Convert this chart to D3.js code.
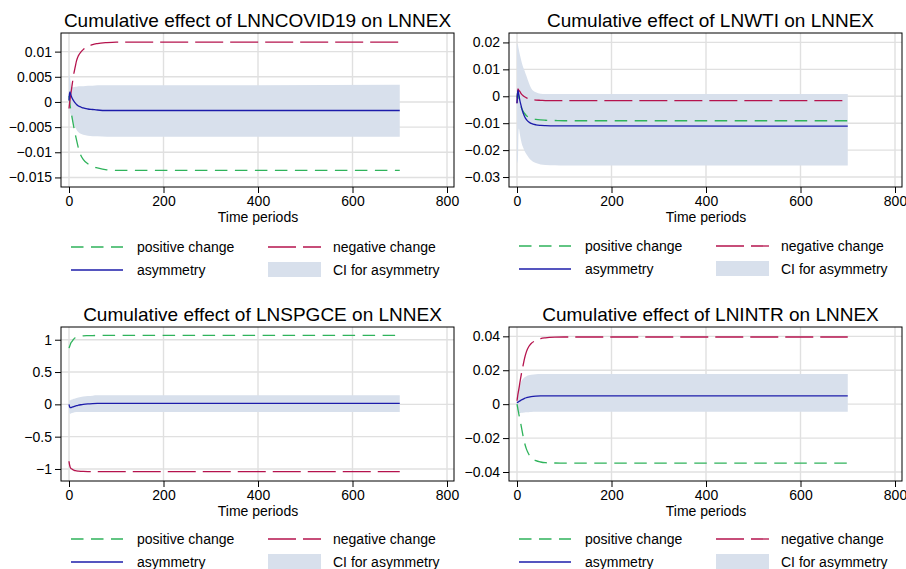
<!DOCTYPE html>
<html lang="en">
<head>
<meta charset="UTF-8">
<title>Cumulative effects on LNNEX</title>
<script src="https://d3js.org/d3.v7.min.js"></script>
<style>
  body { margin: 0; background: #fff; }
  svg { display: block; font-family: "Liberation Sans", Arial, sans-serif; }
</style>
</head>
<body>
<svg width="906" height="569"></svg>
<script>
const periods = [0, 1, 2, 3, 4, 6, 8, 10, 13, 16, 20, 25, 30, 40, 50, 60, 80, 100, 700];
const xTicks = [0, 200, 400, 600, 800];

// LNNCOVID19
const covidPos  = [0.0012, 0.0004, -0.0004, -0.0011, -0.0017, -0.0028, -0.0039, -0.0049, -0.0063, -0.0076, -0.0092, -0.0106, -0.0114, -0.0123, -0.0128, -0.0131, -0.0135, -0.0136, -0.0136];
const covidNeg  = [-0.0013, -0.0005, 0.0003, 0.0011, 0.0017, 0.0030, 0.0043, 0.0055, 0.0069, 0.0082, 0.0092, 0.0099, 0.0104, 0.0110, 0.0114, 0.0116, 0.0118, 0.0119, 0.0119];
const covidAsym = [0.0003, 0.0016, 0.0020, 0.0017, 0.0014, 0.0009, 0.0005, 0.0002, -0.0002, -0.0005, -0.0008, -0.0010, -0.0012, -0.0014, -0.0015, -0.0016, -0.0017, -0.0017, -0.0017];
const covidHi   = [0.0050, 0.0054, 0.0050, 0.0042, 0.0035, 0.0029, 0.0029, 0.0029, 0.0030, 0.0030, 0.0031, 0.0031, 0.0031, 0.0032, 0.0032, 0.0033, 0.0033, 0.0033, 0.0034];
const covidLo   = [-0.0010, -0.0015, -0.0020, -0.0024, -0.0028, -0.0034, -0.0040, -0.0045, -0.0050, -0.0055, -0.0060, -0.0063, -0.0065, -0.0067, -0.0068, -0.0068, -0.0069, -0.0069, -0.0069];
const covidTicks = [-0.015, -0.01, -0.005, 0, 0.005, 0.01];

// LNWTI
const wtiPos  = [-0.0005, 0.0010, 0.0015, 0.0005, -0.0005, -0.0022, -0.0035, -0.0045, -0.0056, -0.0064, -0.0072, -0.0078, -0.0082, -0.0086, -0.0088, -0.0089, -0.0090, -0.0091, -0.0091];
const wtiNeg  = [-0.0026, 0.0005, 0.0027, 0.0025, 0.0022, 0.0018, 0.0012, 0.0007, 0.0002, -0.0002, -0.0006, -0.0009, -0.0011, -0.0014, -0.0015, -0.0016, -0.0016, -0.0016, -0.0016];
const wtiAsym = [-0.0026, 0.0005, 0.0023, 0.0015, 0.0005, -0.0015, -0.0030, -0.0045, -0.0062, -0.0075, -0.0087, -0.0096, -0.0101, -0.0106, -0.0108, -0.0109, -0.0110, -0.0110, -0.0111];
const wtiHi   = [0.0190, 0.0195, 0.0190, 0.0180, 0.0172, 0.0155, 0.0140, 0.0125, 0.0108, 0.0095, 0.0075, 0.0050, 0.0030, 0.0015, 0.0009, 0.0008, 0.0008, 0.0008, 0.0008];
const wtiLo   = [-0.0248, -0.0245, -0.0235, -0.0140, -0.0120, -0.0140, -0.0160, -0.0175, -0.0190, -0.0203, -0.0215, -0.0228, -0.0238, -0.0248, -0.0253, -0.0255, -0.0256, -0.0257, -0.0257];
const wtiTicks = [-0.03, -0.02, -0.01, 0, 0.01, 0.02];

// LNSPGCE
const spgPos  = [0.87, 0.89, 0.91, 0.93, 0.95, 0.97, 0.99, 1.01, 1.03, 1.04, 1.05, 1.055, 1.06, 1.063, 1.065, 1.066, 1.066, 1.066, 1.066];
const spgNeg  = [-0.88, -0.93, -0.96, -0.98, -0.99, -1.00, -1.01, -1.02, -1.025, -1.03, -1.033, -1.036, -1.038, -1.04, -1.04, -1.04, -1.04, -1.04, -1.04];
const spgAsym = [0.00, -0.03, -0.045, -0.05, -0.05, -0.045, -0.04, -0.035, -0.028, -0.02, -0.013, -0.006, 0.0, 0.008, 0.012, 0.014, 0.015, 0.015, 0.015];
const spgHi   = [0.07, 0.06, 0.06, 0.065, 0.07, 0.075, 0.08, 0.085, 0.09, 0.10, 0.105, 0.115, 0.12, 0.13, 0.135, 0.14, 0.14, 0.14, 0.14];
const spgLo   = [-0.12, -0.14, -0.145, -0.145, -0.14, -0.135, -0.13, -0.125, -0.122, -0.12, -0.12, -0.12, -0.12, -0.12, -0.12, -0.12, -0.12, -0.12, -0.12];
const spgTicks = [-1, -0.5, 0, 0.5, 1];

// LNINTR
const intrPos  = [0.0, -0.0015, -0.003, -0.0045, -0.006, -0.0088, -0.0115, -0.0145, -0.019, -0.0228, -0.0265, -0.0295, -0.0315, -0.0333, -0.0341, -0.0345, -0.0347, -0.0348, -0.0348];
const intrNeg  = [0.002, 0.004, 0.006, 0.0075, 0.009, 0.0125, 0.0158, 0.019, 0.023, 0.027, 0.031, 0.034, 0.0358, 0.0375, 0.0386, 0.0391, 0.0395, 0.0396, 0.0396];
const intrAsym = [0.0008, 0.0010, 0.0012, 0.0014, 0.0016, 0.0019, 0.0023, 0.0026, 0.0030, 0.0034, 0.0038, 0.0042, 0.0045, 0.0048, 0.0049, 0.0049, 0.0049, 0.0049, 0.0049];
const intrHi   = [0.004, 0.006, 0.0075, 0.009, 0.010, 0.0115, 0.0128, 0.014, 0.015, 0.0158, 0.0165, 0.017, 0.0173, 0.0177, 0.0178, 0.0178, 0.0178, 0.0178, 0.0178];
const intrLo   = [-0.0025, -0.0035, -0.0042, -0.0047, -0.005, -0.0052, -0.0052, -0.0051, -0.005, -0.0049, -0.0048, -0.0047, -0.0046, -0.0045, -0.0044, -0.0044, -0.0044, -0.0044, -0.0044];
const intrTicks = [-0.04, -0.02, 0, 0.02, 0.04];

const legendLabels = ["positive change", "negative change", "asymmetry", "CI for asymmetry"];

const colPos = "#2fb35b", colNeg = "#b5134d", colAsym = "#1c1caa", colCI = "#d8e0ec";
const dashPos = "12.5,7.5", dashNeg = "28,7";

const panels = [
  { title: "Cumulative effect of LNNCOVID19 on LNNEX", pos: covidPos, neg: covidNeg, asym: covidAsym, lo: covidLo, hi: covidHi, ticks: covidTicks, ydom: [-0.0169, 0.0137], left: 61, top: 33, tdx: 0, leg: [60, 83] },
  { title: "Cumulative effect of LNWTI on LNNEX", pos: wtiPos, neg: wtiNeg, asym: wtiAsym, lo: wtiLo, hi: wtiHi, ticks: wtiTicks, ydom: [-0.0337, 0.0235], left: 509, top: 33, tdx: 5, leg: [59, 82] },
  { title: "Cumulative effect of LNSPGCE on LNNEX", pos: spgPos, neg: spgNeg, asym: spgAsym, lo: spgLo, hi: spgHi, ticks: spgTicks, ydom: [-1.186, 1.197], left: 61, top: 327, tdx: 5, leg: [58, 81] },
  { title: "Cumulative effect of LNINTR on LNNEX", pos: intrPos, neg: intrNeg, asym: intrAsym, lo: intrLo, hi: intrHi, ticks: intrTicks, ydom: [-0.0453, 0.0455], left: 509, top: 327, tdx: 5, leg: [58, 81] }
];

const pw = 393, ph = 154;
const svg = d3.select("svg");
const fmt = d3.format("~g");

panels.forEach(p => {
  const g = svg.append("g").attr("transform", `translate(${p.left},${p.top})`);
  const x = d3.scaleLinear().domain([0, 800]).range([8, 386]);
  const y = d3.scaleLinear().domain(p.ydom).range([ph, 0]);

  // grid
  g.append("g").selectAll("line").data(xTicks).join("line")
    .attr("x1", d => x(d)).attr("x2", d => x(d)).attr("y1", 0).attr("y2", ph)
    .attr("stroke", "#e0e0e0").attr("stroke-width", 1.4);
  g.append("g").selectAll("line").data(p.ticks).join("line")
    .attr("x1", 0).attr("x2", pw).attr("y1", d => y(d)).attr("y2", d => y(d))
    .attr("stroke", "#e0e0e0").attr("stroke-width", 1.4);

  // CI band
  const area = d3.area().curve(d3.curveMonotoneX)
    .x((d, i) => x(periods[i])).y0((d, i) => y(p.lo[i])).y1((d, i) => y(p.hi[i]));
  g.append("path").datum(periods).attr("d", area).attr("fill", colCI);

  const line = vals => d3.line().curve(d3.curveMonotoneX)
    .x((d, i) => x(periods[i])).y(d => y(d))(vals);

  g.append("path").attr("d", line(p.pos)).attr("fill", "none")
    .attr("stroke", colPos).attr("stroke-width", 1.3).attr("stroke-dasharray", dashPos);
  g.append("path").attr("d", line(p.neg)).attr("fill", "none")
    .attr("stroke", colNeg).attr("stroke-width", 1.3).attr("stroke-dasharray", dashNeg);
  g.append("path").attr("d", line(p.asym)).attr("fill", "none")
    .attr("stroke", colAsym).attr("stroke-width", 1.3);

  // frame
  g.append("rect").attr("x", 0).attr("y", 0).attr("width", pw).attr("height", ph)
    .attr("fill", "none").attr("stroke", "#000").attr("stroke-width", 1);

  // axes
  const yAxis = g.append("g")
    .call(d3.axisLeft(y).tickValues(p.ticks).tickFormat(fmt).tickSize(6).tickPadding(3));
  const xAxis = g.append("g").attr("transform", `translate(0,${ph})`)
    .call(d3.axisBottom(x).tickValues(xTicks).tickFormat(fmt).tickSize(6).tickPadding(3));
  [yAxis, xAxis].forEach(a => {
    a.select(".domain").remove();
    a.attr("font-family", null).attr("font-size", null);
    a.selectAll("text").attr("font-size", 14).attr("fill", "#000");
    a.selectAll("line").attr("stroke", "#000");
  });

  g.append("text").attr("x", pw / 2 + p.tdx).attr("y", -6)
    .attr("text-anchor", "middle").attr("font-size", 19).text(p.title);
  g.append("text").attr("x", x(400)).attr("y", ph + 35)
    .attr("text-anchor", "middle").attr("font-size", 14).text("Time periods");

  // legend
  const lg = g.append("g").attr("transform", `translate(0,${ph})`);
  const rows = p.leg;
  lg.append("line").attr("x1", 10).attr("x2", 62).attr("y1", rows[0]).attr("y2", rows[0])
    .attr("stroke", colPos).attr("stroke-width", 1.3).attr("stroke-dasharray", dashPos);
  lg.append("line").attr("x1", 207).attr("x2", 260).attr("y1", rows[0]).attr("y2", rows[0])
    .attr("stroke", colNeg).attr("stroke-width", 1.3).attr("stroke-dasharray", dashNeg);
  lg.append("line").attr("x1", 10).attr("x2", 62).attr("y1", rows[1]).attr("y2", rows[1])
    .attr("stroke", colAsym).attr("stroke-width", 1.3);
  lg.append("rect").attr("x", 207).attr("y", rows[1] - 8).attr("width", 53).attr("height", 15)
    .attr("fill", colCI);
  const lx = [76, 272, 76, 272], ly = [rows[0], rows[0], rows[1], rows[1]];
  legendLabels.forEach((t, i) => {
    lg.append("text").attr("x", lx[i]).attr("y", ly[i]).attr("dy", "0.35em")
      .attr("font-size", 14).text(t);
  });
});
</script>
</body>
</html>
